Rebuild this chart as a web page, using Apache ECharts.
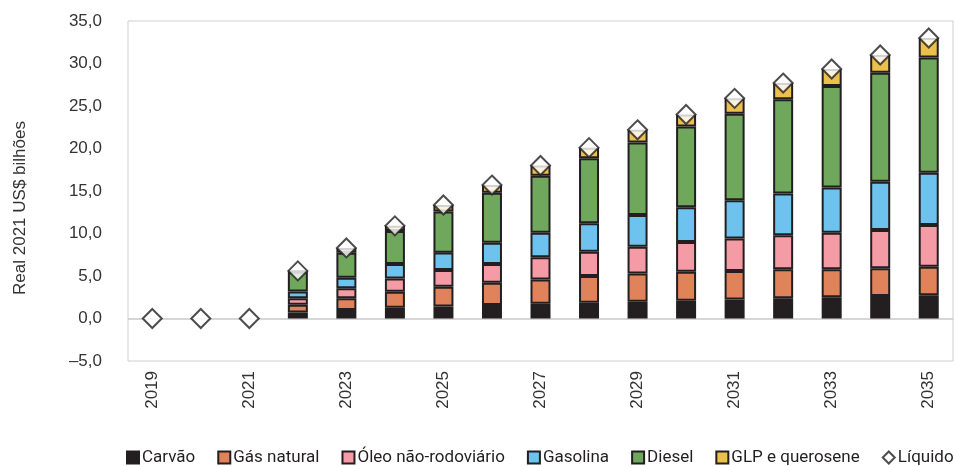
<!DOCTYPE html>
<html>
<head>
<meta charset="utf-8">
<script src="https://cdn.jsdelivr.net/npm/echarts@6/dist/echarts.min.js"></script>
<style>html,body{margin:0;padding:0;background:#fff}#c{width:954px;height:466px}</style>
</head>
<body>
<div id="c"></div>
<script>
var years = ['2019','2020','2021','2022','2023','2024','2025','2026','2027','2028','2029','2030','2031','2032','2033','2034','2035'];
var carvao   = [null,null,null,0.72,1.00,1.27,1.40,1.60,1.75,1.85,1.98,2.10,2.25,2.37,2.50,2.65,2.73];
var gasNat   = [null,null,null,0.90,1.37,1.88,2.35,2.60,2.85,3.15,3.32,3.40,3.35,3.43,3.30,3.25,3.37];
var oleo     = [null,null,null,0.75,1.18,1.55,1.95,2.20,2.60,2.85,3.15,3.50,3.80,4.00,4.30,4.50,4.90];
var gasolina = [null,null,null,0.81,1.25,1.70,2.05,2.50,2.90,3.35,3.73,4.10,4.50,4.90,5.30,5.70,6.15];
var diesel   = [null,null,null,2.32,2.95,3.90,4.85,5.90,6.70,7.65,8.52,9.50,10.20,11.10,11.95,12.80,13.55];
var glp      = [null,null,null,0.10,0.55,0.60,0.75,0.90,1.20,1.25,1.50,1.40,1.80,1.90,2.00,2.10,2.30];
var liquido  = [0.0,0.0,0.0,5.6,8.3,10.9,13.35,15.7,18.0,20.1,22.2,24.0,25.9,27.7,29.35,31.0,33.0];
var yTicks = {min:-5, max:35, interval:5};

var edge = '#231f20';
function barSeries(name, data, color, extra) {
  var s = {
    name: name, type: 'bar', stack: 'total', data: data, barWidth: 20,
    itemStyle: {color: color, borderColor: edge, borderWidth: 2},
    emphasis: {disabled: true}
  };
  if (extra) for (var k in extra) s[k] = extra[k];
  return s;
}
var chart = echarts.init(document.getElementById('c'));
chart.setOption({
  animation: false,
  grid: {left: 128, right: 1, top: 21, bottom: 105, show: true, borderColor: '#cfcfcf', borderWidth: 1},
  legend: {
    left: 126, top: 449, width: 900, padding: 0, itemWidth: 12, itemHeight: 12, itemGap: 22,
    textStyle: {fontFamily: 'Roboto', fontSize: 17, color: edge, padding: [0,0,0,-2]},
    data: [
      {name: 'Carvão', icon: 'rect'},
      {name: 'Gás natural', icon: 'rect'},
      {name: 'Óleo não-rodoviário', icon: 'rect'},
      {name: 'Gasolina', icon: 'rect'},
      {name: 'Diesel', icon: 'rect'},
      {name: 'GLP e querosene', icon: 'rect'},
      {name: 'Líquido', icon: 'diamond'}
    ]
  },
  xAxis: {
    type: 'category', data: years,
    axisLine: {show: false, onZero: false},
    axisTick: {show: false},
    axisLabel: {interval: 1, rotate: 90, margin: 10, fontFamily: 'Liberation Sans, Arial', fontSize: 17, color: '#333'}
  },
  yAxis: {
    type: 'value', min: yTicks.min, max: yTicks.max, interval: yTicks.interval,
    splitLine: {show: false}, axisLine: {show: false}, axisTick: {show: false},
    axisLabel: {
      margin: 26, fontFamily: 'Liberation Sans, Arial', fontSize: 17, color: '#333',
      formatter: function (v) { var s = Math.abs(v).toFixed(1).replace('.', ','); return v < 0 ? '–' + s : s; }
    }
  },
  graphic: [{
    type: 'text', x: 20, y: 208, rotation: Math.PI / 2,
    style: {text: 'Real 2021 US$ bilhões', fontFamily: 'Liberation Sans, Arial', fontSize: 17, fill: '#333', align: 'center', verticalAlign: 'middle'}
  }],
  series: [
    barSeries('Carvão', carvao, '#231f20', {
      markLine: {silent: true, symbol: 'none', label: {show: false}, lineStyle: {color: '#c8c8c8', type: 'solid', width: 1.5}, data: [{yAxis: 0}], z: 1}
    }),
    barSeries('Gás natural', gasNat, '#e0825a'),
    barSeries('Óleo não-rodoviário', oleo, '#f59ba6'),
    barSeries('Gasolina', gasolina, '#6ec3ee'),
    barSeries('Diesel', diesel, '#6fa75c'),
    barSeries('GLP e querosene', glp, '#ecc04c'),
    {
      name: 'Líquido', type: 'scatter', data: liquido, symbol: 'diamond', symbolSize: [19, 19], z: 5,
      itemStyle: {color: '#ffffff', borderColor: edge, borderWidth: 2},
      emphasis: {disabled: true}
    }
  ]
});
</script>
</body>
</html>
